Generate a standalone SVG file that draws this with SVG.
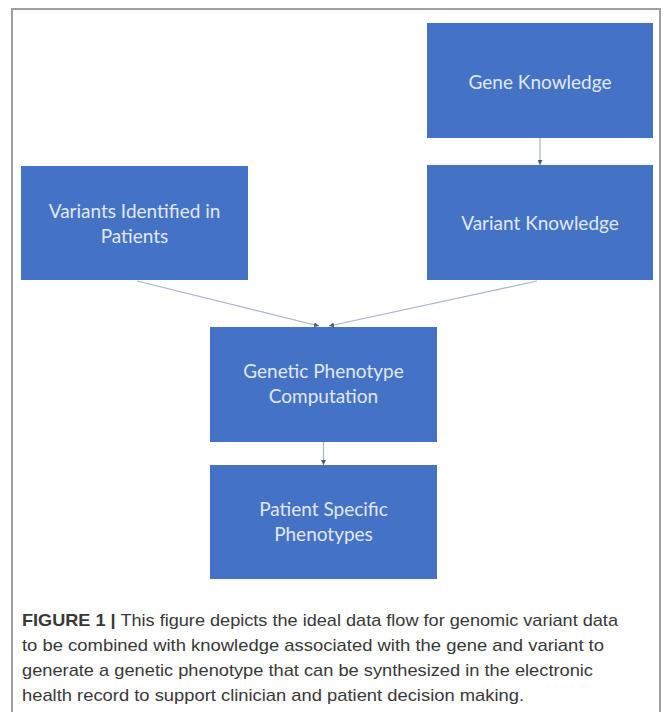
<svg xmlns="http://www.w3.org/2000/svg" width="663" height="712" viewBox="0 0 663 712">
<defs>
<style>
.box{fill:#4472c4;}
.lbl{font-family:Lato,"Open Sans","Liberation Sans",sans-serif;font-size:19px;fill:#e1e8f5;text-anchor:middle;}
.con{stroke:#a8b4cc;stroke-width:1.2;fill:none;marker-end:url(#ah);}
.cap{font-family:"Liberation Sans",Arial,sans-serif;font-size:17px;fill:#383838;}
</style>
<marker id="ah" viewBox="0 0 10 10" refX="10" refY="5" markerWidth="5" markerHeight="5" orient="auto" markerUnits="userSpaceOnUse">
<path d="M0,0 L10,5 L0,10 z" fill="#4a5a7a"/>
</marker>
</defs>
<rect width="663" height="712" fill="#ffffff"/>
<path d="M12,712 V9 H660 V712" fill="none" stroke="#a0a0a0" stroke-width="2"/>
<g id="connectors">
<line class="con" x1="540" y1="138" x2="540" y2="165"/>
<line class="con" x1="137" y1="281" x2="319" y2="326"/>
<line class="con" x1="537" y1="281" x2="329" y2="326"/>
<line class="con" x1="323.5" y1="442" x2="323.5" y2="465"/>
</g>
<g id="gene-knowledge">
<rect class="box" x="427" y="23" width="226" height="115"/>
<text class="lbl" x="540" y="89">Gene Knowledge</text>
</g>
<g id="variant-knowledge">
<rect class="box" x="427" y="165" width="226" height="115"/>
<text class="lbl" x="540" y="230">Variant Knowledge</text>
</g>
<g id="variants-identified">
<rect class="box" x="21" y="166" width="227" height="114"/>
<text class="lbl" x="134.5" y="218">Variants Identified in</text>
<text class="lbl" x="134.5" y="243">Patients</text>
</g>
<g id="genetic-phenotype">
<rect class="box" x="210" y="327" width="227" height="115"/>
<text class="lbl" x="323.5" y="378">Genetic Phenotype</text>
<text class="lbl" x="323.5" y="403">Computation</text>
</g>
<g id="patient-specific">
<rect class="box" x="210" y="465" width="227" height="114"/>
<text class="lbl" x="323.5" y="516">Patient Specific</text>
<text class="lbl" x="323.5" y="541">Phenotypes</text>
</g>
<g id="caption">
<text class="cap" x="22" y="626" textLength="596" lengthAdjust="spacingAndGlyphs"><tspan font-weight="bold">FIGURE 1 |</tspan> This figure depicts the ideal data flow for genomic variant data</text>
<text class="cap" x="22" y="651" textLength="582" lengthAdjust="spacingAndGlyphs">to be combined with knowledge associated with the gene and variant to</text>
<text class="cap" x="22" y="676" textLength="571" lengthAdjust="spacingAndGlyphs">generate a genetic phenotype that can be synthesized in the electronic</text>
<text class="cap" x="22" y="701" textLength="502" lengthAdjust="spacingAndGlyphs">health record to support clinician and patient decision making.</text>
</g>
</svg>
